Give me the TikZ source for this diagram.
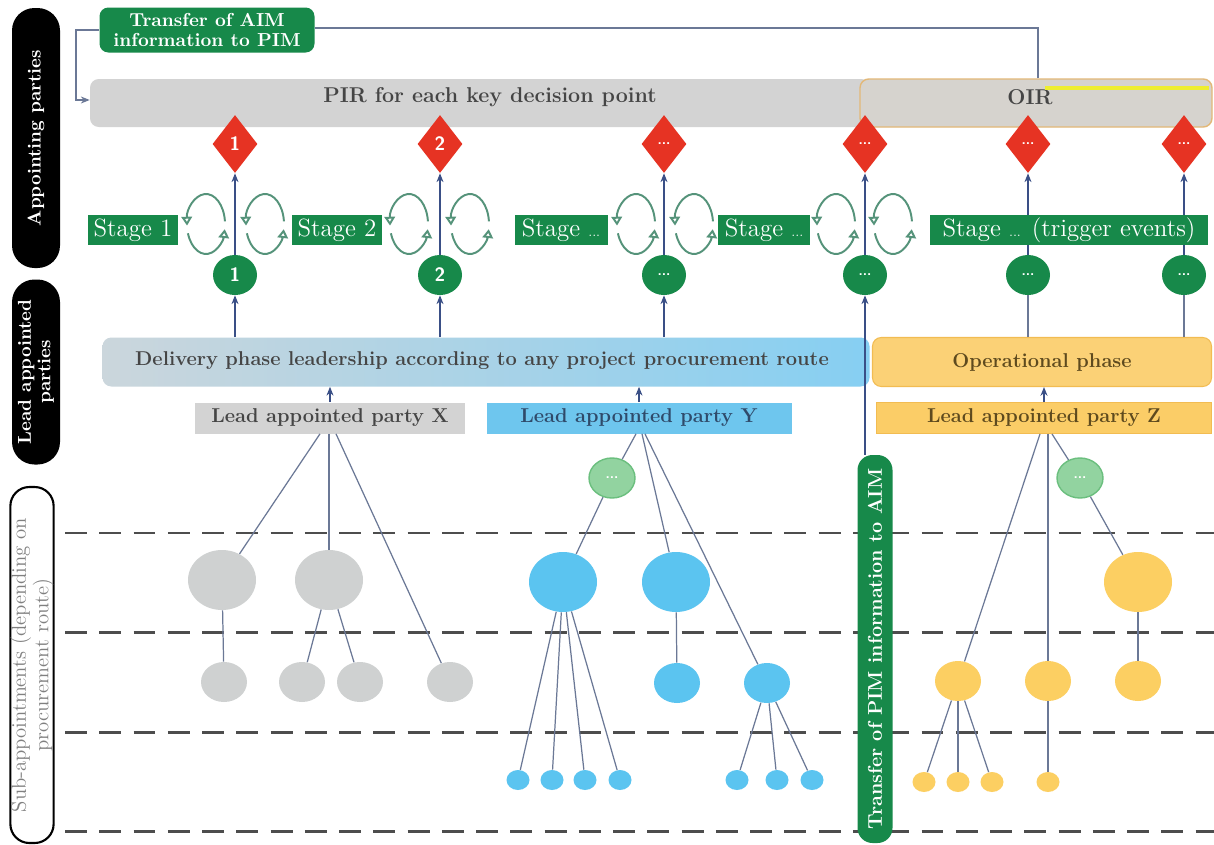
\documentclass[tikz,border=0pt]{standalone}
\usepackage{fontspec}
\usetikzlibrary{shapes.geometric,arrows.meta,calc}
\definecolor{sgreen}{HTML}{17894A}
\definecolor{sred}{HTML}{E63323}
\definecolor{lineblue}{HTML}{6B7896}
\definecolor{darrow}{HTML}{3A4F86}
\definecolor{pirgrey}{HTML}{D3D3D3}
\definecolor{oirfill}{HTML}{D6D3CE}
\definecolor{oirdraw}{HTML}{E3B877}
\definecolor{delleft}{HTML}{CBD6DC}
\definecolor{delright}{HTML}{86CFF2}
\definecolor{opfill}{HTML}{FBD176}
\definecolor{opdraw}{HTML}{F2BC52}
\definecolor{lxfill}{HTML}{D3D3D3}
\definecolor{lyfill}{HTML}{6EC6EE}
\definecolor{lzfill}{HTML}{FBCD67}
\definecolor{tgrey}{HTML}{CFD1D1}
\definecolor{tblue}{HTML}{5BC4F0}
\definecolor{tyellow}{HTML}{FCCF62}
\definecolor{tgreen}{HTML}{92D3A0}
\definecolor{tgreend}{HTML}{6BBF7E}
\definecolor{cycg}{HTML}{55937A}
\definecolor{dashc}{HTML}{4D4D4D}
\definecolor{txtgrey}{HTML}{454545}
\definecolor{ytext}{HTML}{2F4A6A}
\definecolor{ztext}{HTML}{5E4A1E}
\definecolor{oiryel}{HTML}{EEEE30}
\def\pxu{0.02cm}
\begin{document}
\begin{tikzpicture}[x=0.02cm,y=-0.02cm,
  lbl/.style={fill=black, rounded corners=0.45cm, text=white, align=center, inner sep=0pt,
    font=\bfseries\fontsize{10.6}{11}\selectfont},
  sublbl/.style={draw=black, line width=1.2pt, fill=white, rounded corners=0.38cm, text=gray,
    align=center, inner sep=0pt, font=\fontsize{11.8}{11.5}\selectfont},
  gbox/.style={fill=sgreen, text=white, align=center, inner sep=0pt, rounded corners=5pt,
    font=\bfseries\fontsize{10.7}{11}\selectfont},
  topbox/.style={rounded corners=5pt, inner sep=0pt, minimum height=48*\pxu},
  toptext/.style={text=txtgrey, inner sep=0pt, font=\bfseries\fontsize{12.2}{13}\selectfont},
  dia/.style={diamond, fill=sred, inner sep=0pt, minimum width=45*\pxu, minimum height=58*\pxu,
    text=white, font=\sffamily\bfseries\fontsize{11}{11}\selectfont},
  gc/.style={ellipse, fill=sgreen, inner sep=0pt, minimum width=44*\pxu, minimum height=40*\pxu,
    text=white, font=\sffamily\bfseries\fontsize{11}{11}\selectfont},
  stagebox/.style={fill=sgreen, text=white, inner sep=0pt, minimum height=30*\pxu,
    font=\fontsize{14.2}{14.2}\selectfont},
  phase/.style={rounded corners=5pt, inner sep=0pt, minimum height=49*\pxu,
    font=\bfseries\fontsize{11.4}{12}\selectfont},
  lead/.style={inner sep=0pt, minimum height=31*\pxu, font=\bfseries\fontsize{11.4}{12}\selectfont},
  conn/.style={draw=lineblue, line width=0.7pt},
  arr/.style={draw=darrow, line width=0.7pt, -{Stealth[length=5pt,width=4pt]}},
  cyc/.style={draw=cycg, line width=1.1pt, -{Triangle[open,length=5pt,width=6pt,fill=white]}},
  big/.style={ellipse, inner sep=0pt, minimum width=68*\pxu, minimum height=60*\pxu},
  small/.style={ellipse, inner sep=0pt, minimum width=46*\pxu, minimum height=40*\pxu},
  tiny/.style={ellipse, inner sep=0pt, minimum width=23*\pxu, minimum height=20*\pxu},
  dots/.style={text=white, font=\sffamily\bfseries\fontsize{8}{8}\selectfont},
  dashline/.style={draw=dashc, line width=1.7pt, dash pattern=on 12.5pt off 7pt}
]
\useasboundingbox[fill=white] (0,0) rectangle (1214,845);

% left side labels
\node[lbl, minimum width=260*\pxu, minimum height=48*\pxu, rotate=90] (ap) at (36,138) {Appointing parties};
\node[lbl, minimum width=185*\pxu, minimum height=48*\pxu, rotate=90] (lap) at (36,372) {Lead appointed\\parties};
\node[sublbl, minimum width=356*\pxu, minimum height=40*\pxu, rotate=90] (sap) at (32,665) {Sub-appointments (depending on\\procurement route)};

% dashed separators
\draw[dashline] (65,533) -- (1214,533);
\draw[dashline] (65,632) -- (1214,632);
\draw[dashline] (65,732) -- (1214,732);
\draw[dashline] (65,831) -- (1214,831);

% top row
\node[topbox, fill=pirgrey, minimum width=780*\pxu] (pir) at (480,103) {};
\node[toptext] (pirt) at (490,97) {PIR for each key decision point};
\node[topbox, fill=oirfill, draw=oirdraw, line width=0.8pt, minimum width=352*\pxu] (oir) at (1036,103) {};
\node[toptext] (oirt) at (1030,97) {OIR};
\draw[oiryel, line width=2.2pt] (1045,88) -- (1209,88);

\node[gbox, minimum width=215*\pxu, minimum height=45*\pxu] (tai) at (207,30) {Transfer of AIM\\information to PIM};
\coordinate (fbr) at (1038,28);
\coordinate (fbl) at (76,100);
\draw[conn] (oir.north -| fbr) -- (fbr) -- (fbr -| tai.east);
\draw[conn, -{Stealth[length=5pt,width=4pt]}] (tai.west) -| (fbl) -- (fbl -| pir.west);

% diamonds
\node[dia] (d1) at (235,144) {1};
\node[dia] (d2) at (440,144) {2};
\node[dia] (d3) at (664,144) {\fontsize{8}{8}\selectfont...};
\node[dia] (d4) at (865,144) {\fontsize{8}{8}\selectfont...};
\node[dia] (d5) at (1028,144) {\fontsize{8}{8}\selectfont...};
\node[dia] (d6) at (1184,144) {\fontsize{8}{8}\selectfont...};

% green circles
\node[gc] (c1) at (235,275) {1};
\node[gc] (c2) at (440,275) {2};
\node[gc] (c3) at (664,275) {\fontsize{8}{8}\selectfont...};
\node[gc] (c4) at (865,275) {\fontsize{8}{8}\selectfont...};
\node[gc] (c5) at (1028,275) {\fontsize{8}{8}\selectfont...};
\node[gc] (c6) at (1184,275) {\fontsize{8}{8}\selectfont...};

\foreach \i in {1,...,6}{\draw[arr] (c\i.north) -- (d\i.south);}

% stages
\node[stagebox, minimum width=90*\pxu] (s1) at (133,230) {Stage 1};
\node[stagebox, minimum width=90*\pxu] (s2) at (337,230) {Stage 2};
\node[stagebox, minimum width=93*\pxu] (s3) at (561,230) {Stage {\scriptsize...}};
\node[stagebox, minimum width=92*\pxu] (s4) at (764,230) {Stage {\scriptsize...}};
\node[stagebox, minimum width=278*\pxu] (s5) at (1069,230) {Stage {\scriptsize...} (trigger events)};

% cycles
\foreach \n/\cx in {a/206,b/265,c/409,d/470,e/636,f/694,g/836,h/893}{
  \coordinate (cy\n) at (\cx,224);
  \draw[cyc] (cy\n) ++(5:0.38cm and 0.6cm) arc[start angle=5, end angle=183, x radius=0.38cm, y radius=0.6cm];
  \draw[cyc] (cy\n) ++(198:0.38cm and 0.6cm) arc[start angle=198, end angle=350, x radius=0.38cm, y radius=0.6cm];
}

% phase boxes
\node[phase, left color=delleft, right color=delright, minimum width=767*\pxu] (del) at (486,362) {};
\node[text=txtgrey, inner sep=0pt, font=\bfseries\fontsize{11.4}{12}\selectfont] (delt) at (482,361) {Delivery phase leadership according to any project procurement route};
\node[phase, fill=opfill, draw=opdraw, line width=0.6pt, minimum width=339*\pxu, text=ztext] (op) at (1042,362) {Operational phase};

% transfer PIM to AIM
\node[gbox, font=\bfseries\fontsize{11.3}{11}\selectfont, rounded corners=0.3cm, minimum width=388*\pxu, minimum height=35*\pxu, rotate=90] (tp) at (875,649) {Transfer of PIM information to AIM};

\draw[arr] (c1 |- del.north) -- (c1.south);
\draw[arr] (c2 |- del.north) -- (c2.south);
\draw[arr] (c3 |- del.north) -- (c3.south);
\draw[arr] (c4 |- tp.east) -- (c4.south);
\draw[conn] (c5 |- op.north) -- (c5.south);
\draw[conn] (c6 |- op.north) -- (c6.south);

% lead appointed parties
\node[lead, fill=lxfill, minimum width=270*\pxu, text=txtgrey] (lx) at (330,418) {Lead appointed party X};
\node[lead, fill=lyfill, minimum width=305*\pxu, text=ytext] (ly) at (639,418) {Lead appointed party Y};
\node[lead, fill=lzfill, draw=opdraw, line width=0.5pt, minimum width=335*\pxu, text=ztext] (lz) at (1044,418) {Lead appointed party Z};

\draw[arr] (lx.north) -- (lx.north |- del.south);
\draw[arr] (ly.north) -- (ly.north |- del.south);
\draw[arr] (lz.north) -- (lz.north |- op.south);

% tree X
\node[big, fill=tgrey] (gx1) at (222,580) {};
\node[big, fill=tgrey] (gx2) at (329,580) {};
\node[small, fill=tgrey] (gxa) at (224,682) {};
\node[small, fill=tgrey] (gxb) at (302,682) {};
\node[small, fill=tgrey] (gxc) at (360,682) {};
\node[small, fill=tgrey] (gxd) at (450,682) {};
\draw[conn] ($(lx.south)+(-10,0)$) -- (gx1);
\draw[conn] (gx2 |- lx.south) -- (gx2);
\draw[conn] ($(lx.south)+(6,0)$) -- (gxd);
\draw[conn] (gx1) -- (gxa);
\draw[conn] (gx2) -- (gxb);
\draw[conn] (gx2) -- (gxc);

% tree Y
\node[small, fill=tgreen, draw=tgreend, line width=0.8pt, dots] (gy) at (612,478) {...};
\node[big, fill=tblue] (by1) at (563,582) {};
\node[big, fill=tblue] (by2) at (676,582) {};
\node[small, fill=tblue] (sy1) at (677,683) {};
\node[small, fill=tblue] (sy2) at (767,683) {};
\node[tiny, fill=tblue] (ty1) at (518,780) {};
\node[tiny, fill=tblue] (ty2) at (552,780) {};
\node[tiny, fill=tblue] (ty3) at (585,780) {};
\node[tiny, fill=tblue] (ty4) at (620,780) {};
\node[tiny, fill=tblue] (ty5) at (737,780) {};
\node[tiny, fill=tblue] (ty6) at (777,780) {};
\node[tiny, fill=tblue] (ty7) at (812,780) {};
\draw[conn] ($(ly.south)+(-3,0)$) -- (gy);
\draw[conn] (gy) -- (by1);
\draw[conn] ($(ly.south)+(3,0)$) -- (by2);
\draw[conn] ($(ly.south)+(6,0)$) -- (sy2);
\foreach \t in {ty1,ty2,ty3,ty4}{\draw[conn] (by1) -- (\t);}
\draw[conn] (by2) -- (sy1);
\foreach \t in {ty5,ty6,ty7}{\draw[conn] (sy2) -- (\t);}

% tree Z
\node[small, fill=tgreen, draw=tgreend, line width=0.8pt, dots] (gz) at (1080,478) {...};
\node[big, fill=tyellow] (bz) at (1138,582) {};
\node[small, fill=tyellow] (sz1) at (958,681) {};
\node[small, fill=tyellow] (sz2) at (1048,681) {};
\node[small, fill=tyellow] (sz3) at (1138,681) {};
\node[tiny, fill=tyellow] (tz1) at (924,782) {};
\node[tiny, fill=tyellow] (tz2) at (958,782) {};
\node[tiny, fill=tyellow] (tz3) at (992,782) {};
\node[tiny, fill=tyellow] (tz4) at (1048,782) {};
\draw[conn] ($(lz.south)+(-4,0)$) -- (sz1);
\draw[conn] (sz2 |- lz.south) -- (sz2);
\draw[conn] ($(lz.south)+(8,0)$) -- (gz);
\draw[conn] (gz) -- (bz);
\draw[conn] (bz) -- (sz3);
\foreach \t in {tz1,tz2,tz3}{\draw[conn] (sz1) -- (\t);}
\draw[conn] (sz2) -- (tz4);
\end{tikzpicture}
\end{document}
